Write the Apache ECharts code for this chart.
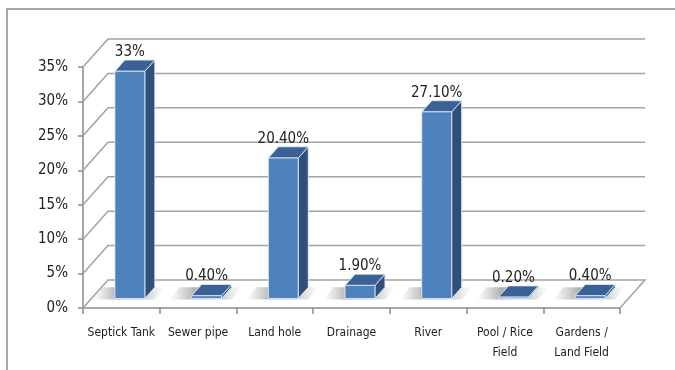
<!DOCTYPE html>
<html>
<head>
<meta charset="utf-8">
<script src="https://cdn.jsdelivr.net/npm/echarts@6/dist/echarts.min.js"></script>
<style>
html, body { margin: 0; padding: 0; background: #fff; }
#chart { width: 675px; height: 370px; }
</style>
</head>
<body>
<div id="chart"></div>
<script>
const categories = ['Septick Tank', 'Sewer pipe', 'Land hole', 'Drainage', 'River', 'Pool / Rice\nField', 'Gardens /\nLand Field'];
const values = [33, 0.4, 20.4, 1.9, 27.1, 0.2, 0.4];
const valueLabels = ['33%', '0.40%', '20.40%', '1.90%', '27.10%', '0.20%', '0.40%'];
const yTicks = [0, 5, 10, 15, 20, 25, 30, 35];

const FONT = "'Liberation Sans Narrow', 'DejaVu Sans Condensed', 'Arial Narrow', sans-serif";
const DEPTH = [25, -28];             // px offset of the back wall
const BAR_FRONT = 0.34, BAR_BACK = 0.74, BAR_W = 0.39;
const GRID_COLOR = '#a3a3a3';
const AXIS_COLOR = '#8a8a8a';

const chart = echarts.init(document.getElementById('chart'));

// side wall diagonals + back wall gridlines (+ floor right edge at 0)
function renderWall(params, api) {
  const cs = params.coordSys;
  const v = api.value(1);
  const y = api.coord([0, v])[1];
  const left = cs.x, right = cs.x + cs.width;
  const pts = [[left, y], [left + DEPTH[0], y + DEPTH[1]], [right + DEPTH[0], y + DEPTH[1]]];
  if (v === 0) pts.push([right, y]);
  return { type: 'polyline', shape: { points: pts }, style: { stroke: GRID_COLOR, lineWidth: 1.5, fill: null } };
}

const shadowFill = new echarts.graphic.LinearGradient(0, 0, 1, 0, [
  { offset: 0, color: 'rgba(140,140,140,0)' },
  { offset: 0.35, color: 'rgba(110,110,110,0.55)' },
  { offset: 0.75, color: 'rgba(130,130,130,0.35)' },
  { offset: 1, color: 'rgba(150,150,150,0)' }
]);

function renderBar(params, api) {
  const i = api.value(0), v = api.value(1);
  const base = api.coord([i, 0]);
  const top = api.coord([i, v]);
  const bw = api.size([1, 0])[0] * BAR_W;
  const fx = base[0] - bw / 2 + DEPTH[0] * BAR_FRONT;
  const fy0 = base[1] + DEPTH[1] * BAR_FRONT;
  const fy1 = Math.min(top[1] + DEPTH[1] * BAR_FRONT, fy0 - 1);
  const dx = DEPTH[0] * (BAR_BACK - BAR_FRONT), dy = DEPTH[1] * (BAR_BACK - BAR_FRONT);
  const edge = { stroke: 'rgba(225,235,248,0.85)', lineWidth: 1 };
  const s0 = fx - 22, s1 = fx + bw + 10;   // soft floor shadow
  return {
    type: 'group',
    children: [
      { type: 'polygon', shape: { points: [[s0, fy0 + 1], [s1, fy0 + 1], [s1 + dx, fy0 + dy], [s0 + dx, fy0 + dy]] },
        style: { fill: shadowFill } },
      { type: 'polygon', shape: { points: [[fx + bw, fy1], [fx + bw, fy0], [fx + bw + dx, fy0 + dy], [fx + bw + dx, fy1 + dy]] },
        style: Object.assign({ fill: '#2f5179' }, edge) },
      { type: 'polygon', shape: { points: [[fx, fy1], [fx + bw, fy1], [fx + bw + dx, fy1 + dy], [fx + dx, fy1 + dy]] },
        style: Object.assign({ fill: '#3a6294' }, edge) },
      { type: 'rect', shape: { x: fx, y: fy1, width: bw, height: fy0 - fy1 },
        style: Object.assign({ fill: '#4f81bd' }, edge) },
      { type: 'text', x: fx + bw / 2, y: fy1 + dy - 8,
        style: { text: valueLabels[i], fill: '#222', font: '15px ' + FONT, align: 'center', verticalAlign: 'middle' } }
    ]
  };
}

chart.setOption({
  backgroundColor: '#fff',
  animation: false,
  graphic: [{ type: 'rect', z: -10, shape: { x: 7, y: 9, width: 700, height: 400 }, style: { fill: 'none', stroke: '#8c8c8c', lineWidth: 1.5 } }],
  grid: { left: 83, right: 55, top: 67, bottom: 62, containLabel: false, outerBoundsMode: 'none' },
  xAxis: {
    type: 'category',
    data: categories,
    axisLine: { lineStyle: { color: AXIS_COLOR, width: 1.5 } },
    axisTick: { show: true, length: 6, lineStyle: { color: AXIS_COLOR, width: 1.5 } },
    axisLabel: { color: '#222', fontFamily: FONT, fontSize: 12, margin: 15, lineHeight: 20, interval: 0 }
  },
  yAxis: {
    type: 'value',
    min: 0, max: 35, interval: 5,
    axisLine: { show: true, lineStyle: { color: AXIS_COLOR, width: 1.5 } },
    axisTick: { show: true, length: 5, lineStyle: { color: AXIS_COLOR, width: 1.5 } },
    axisLabel: { color: '#222', fontFamily: FONT, fontSize: 15, margin: 15, formatter: '{value}%' },
    splitLine: { show: false }
  },
  series: [
    { type: 'custom', z: 1, renderItem: renderWall, data: yTicks.map(v => [0, v]), silent: true },
    { type: 'custom', z: 2, renderItem: renderBar, data: values.map((v, i) => [i, v]) }
  ]
});
</script>
</body>
</html>
